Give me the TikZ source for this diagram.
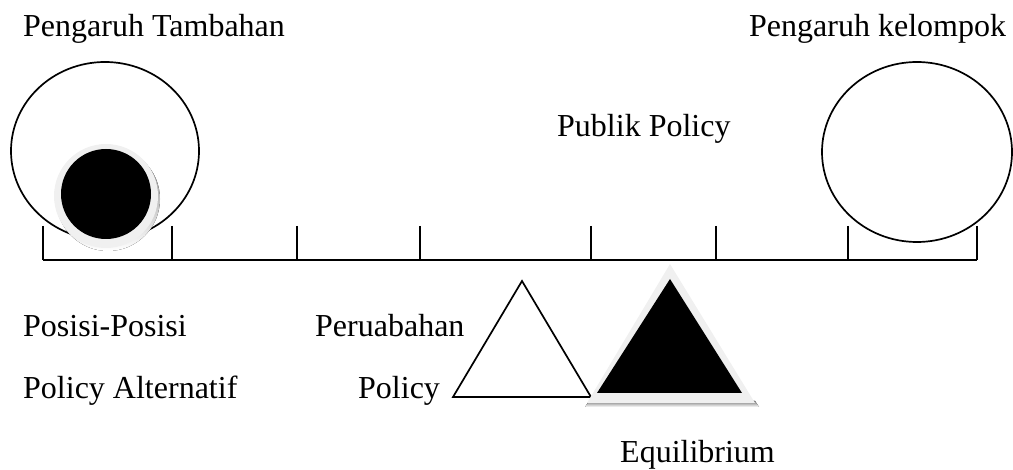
\documentclass[tikz,border=0pt]{standalone}
\usepackage{fontspec}
\setmainfont{Liberation Serif}
\usepackage{tikz}

\begin{document}
\begin{tikzpicture}[x=1pt,y=-1pt]
		\tikzset{txt/.style={anchor=base west,inner sep=0pt,font=\fontsize{32}{36}\selectfont}};
		\tikzset{rim/.style={line width=1.7pt}};
		\definecolor{halo}{gray}{0.94}
		\definecolor{shade}{gray}{0.78}
		\useasboundingbox (0,0) rectangle (1013,470);
		% the two weights and the beam
		\draw[rim] (105,151) ellipse (94 and 89);
		\draw[rim] (917,152) ellipse (95 and 90);
		\draw[rim] (43,260) -- (977,260);
		\foreach \x in {43,172,297,420,591,716,848,977}
			\draw[rim] (\x,226) -- (\x,260);
		% small ball on the left
		\fill[shade] (108,199) circle(52);
		\fill[halo] (106,196) circle(52);
		\fill[black] (106,194) circle(45);
		% old and new fulcrum
		\draw[rim] (522,281) -- (453,397) -- (591,397) -- cycle;
		\fill[shade] (589,401) -- (585,407) -- (759,407) -- (755,401) -- cycle;
		\fill[halo] (670,264) -- (587,403) -- (755,403) -- cycle;
		\fill[black] (670,279) -- (597,393) -- (742,393) -- cycle;
		% texts
		\node[txt] (tambahan) at (23,37) {Pengaruh Tambahan};
		\node[txt] (kelompok) at (749,37) {Pengaruh kelompok};
		\node[txt] (publik) at (557,137) {Publik Policy};
		\node[txt] (posisi) at (23,337) {Posisi-Posisi};
		\node[txt] (alternatif) at (23,399) {Policy Alternatif};
		\node[txt] (peruabahan) at (315,337) {Peruabahan};
		\node[txt] (policy) at (358,399) {Policy};
		\node[txt] (equilibrium) at (620,463) {Equilibrium};
	\end{tikzpicture}
\end{document}
